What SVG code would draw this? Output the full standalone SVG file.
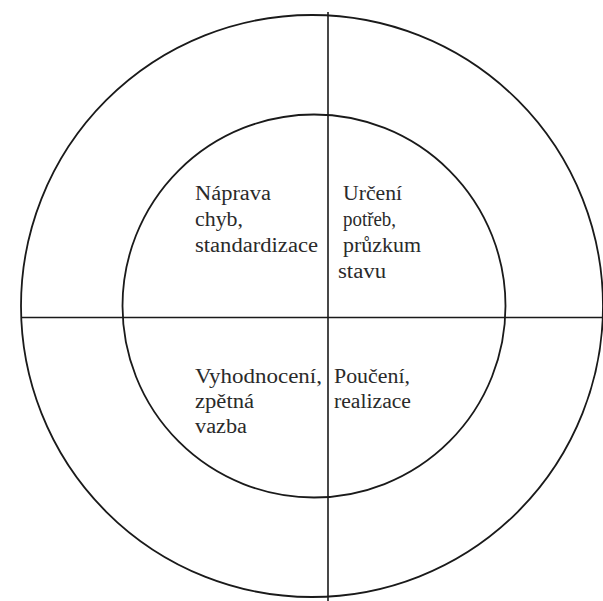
<svg xmlns="http://www.w3.org/2000/svg" width="603" height="601" viewBox="0 0 603 601">
<style>
.ring{fill:none;stroke:#1a1a1a;stroke-width:1.8}
.axis{stroke:#1a1a1a;stroke-width:1.6}
.lbl{font-family:'Times New Roman',Times,'Liberation Serif','DejaVu Serif',Tinos,serif;font-size:20px;fill:#2a2a2a}
</style>
<rect width="603" height="601" fill="#ffffff"/>
<g id="rings">
<circle id="outer" class="ring" cx="312" cy="306" r="291"/>
<circle id="inner" class="ring" cx="314" cy="306" r="191.5"/>
</g>
<g id="connectors">
<line class="axis" x1="328" y1="12" x2="328" y2="601"/>
<line class="axis" x1="21" y1="317.5" x2="603" y2="317.5"/>
</g>
<g id="q-top-left">
<text class="lbl" x="195" y="200" textLength="76" lengthAdjust="spacingAndGlyphs">Náprava</text>
<text class="lbl" x="195" y="226" textLength="48" lengthAdjust="spacingAndGlyphs">chyb,</text>
<text class="lbl" x="195" y="252" textLength="123" lengthAdjust="spacingAndGlyphs">standardizace</text>
</g>
<g id="q-top-right">
<text class="lbl" x="343" y="200" textLength="59" lengthAdjust="spacingAndGlyphs">Určení</text>
<text class="lbl" x="343" y="226" textLength="53" lengthAdjust="spacingAndGlyphs">potřeb,</text>
<text class="lbl" x="343" y="252" textLength="78" lengthAdjust="spacingAndGlyphs">průzkum</text>
<text class="lbl" x="338" y="278" textLength="48" lengthAdjust="spacingAndGlyphs">stavu</text>
</g>
<g id="q-bottom-left">
<text class="lbl" x="195" y="383" textLength="127" lengthAdjust="spacingAndGlyphs">Vyhodnocení,</text>
<text class="lbl" x="195" y="408" textLength="59" lengthAdjust="spacingAndGlyphs">zpětná</text>
<text class="lbl" x="195" y="433" textLength="52" lengthAdjust="spacingAndGlyphs">vazba</text>
</g>
<g id="q-bottom-right">
<text class="lbl" x="334" y="383" textLength="76" lengthAdjust="spacingAndGlyphs">Poučení,</text>
<text class="lbl" x="334" y="408" textLength="77" lengthAdjust="spacingAndGlyphs">realizace</text>
</g>
</svg>
